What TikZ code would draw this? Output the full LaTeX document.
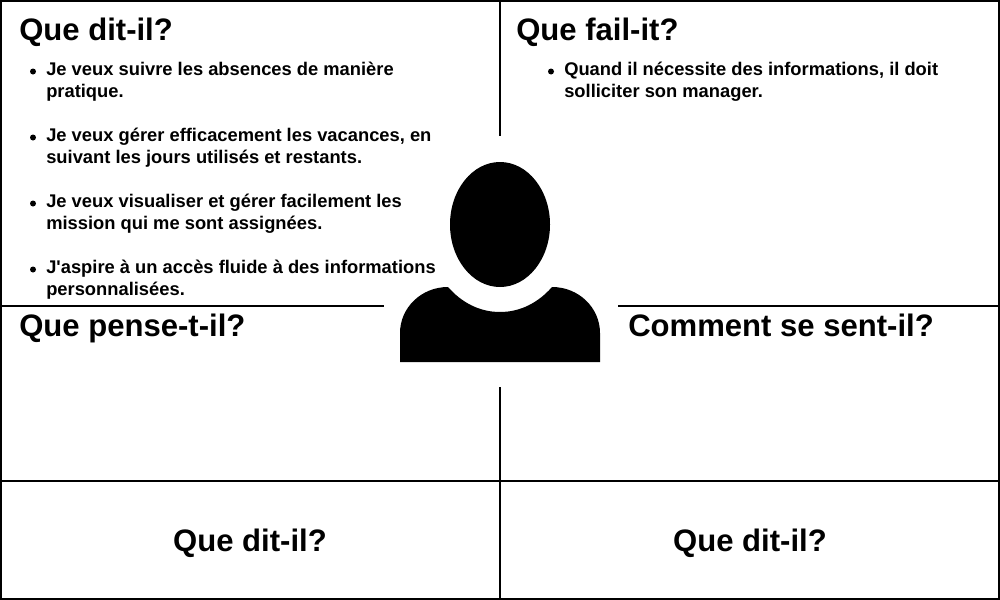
\documentclass[tikz,border=0pt]{standalone}
\usepackage{fontspec}
\setmainfont{Liberation Sans}
\newfontfamily\straightfont{Liberation Sans}
\tikzset{
 px/.style={x=0.75pt,y=-0.75pt},
 grid/.style={draw=black,line width=1.5pt},
 head/.style={anchor=base west,font=\fontsize{23.3pt}{26pt}\selectfont\bfseries,inner sep=0pt},
 ctr/.style={anchor=base,font=\fontsize{23.3pt}{26pt}\selectfont\bfseries,inner sep=0pt},
 item/.style={anchor=base west,font=\fontsize{13.75pt}{16pt}\selectfont\bfseries,inner sep=0pt},
 dot/.style={circle,fill=black,inner sep=0pt,minimum size=4.5pt}
}
\begin{document}
\begin{tikzpicture}[px]
\useasboundingbox (0,0) rectangle (1000,600);
\fill[white] (0,0) rectangle (1000,600);
\draw[grid] (1,1) rectangle (999,599);
\draw[grid] (500,0) -- (500,136);
\draw[grid] (500,387) -- (500,600);
\draw[grid] (0,306) -- (384,306);
\draw[grid] (618,306) -- (1000,306);
\draw[grid] (0,481) -- (1000,481);
\fill (500,224.5) ellipse [x radius=50,y radius=62.5];
\fill (400,362) -- (400,333) .. controls (400,308) and (421,287) .. (448,287) .. controls (462,303) and (480,312) .. (500,312) .. controls (520,312) and (538,303) .. (552,287) .. controls (579,287) and (600,308) .. (600,333) -- (600,362) -- cycle;
\node[head] (h1) at (19,40) {Que dit-il?};
\node[head] (h2) at (516,40) {Que fail-it?};
\node[head] (h3) at (19,336) {Que pense-t-il?};
\node[head] (h4) at (628,336) {Comment se sent-il?};
\node[ctr] (c1) at (250,551) {Que dit-il?};
\node[ctr] (c2) at (750,551) {Que dit-il?};
\node[dot] (d1) at (33,71.5) {};
\node[item] (t1) at (46,75.7) {Je veux suivre les absences de manière};
\node[item] (t1b) at (46,97.7) {pratique.};
\node[dot] (d2) at (33,137.5) {};
\node[item] (t2) at (46,141.7) {Je veux gérer efficacement les vacances, en};
\node[item] (t2b) at (46,163.7) {suivant les jours utilisés et restants.};
\node[dot] (d3) at (33,203.5) {};
\node[item] (t3) at (46,207.7) {Je veux visualiser et gérer facilement les};
\node[item] (t3b) at (46,229.7) {mission qui me sont assignées.};
\node[dot] (d4) at (33,269.5) {};
\node[item] (t4) at (46,273.7) {J{\straightfont\bfseries '}aspire à un accès fluide à des informations};
\node[item] (t4b) at (46,295.7) {personnalisées.};
\node[dot] (d5) at (551,71.5) {};
\node[item] (t5) at (564,75.7) {Quand il nécessite des informations, il doit};
\node[item] (t5b) at (564,97.7) {solliciter son manager.};
\end{tikzpicture}
\end{document}
